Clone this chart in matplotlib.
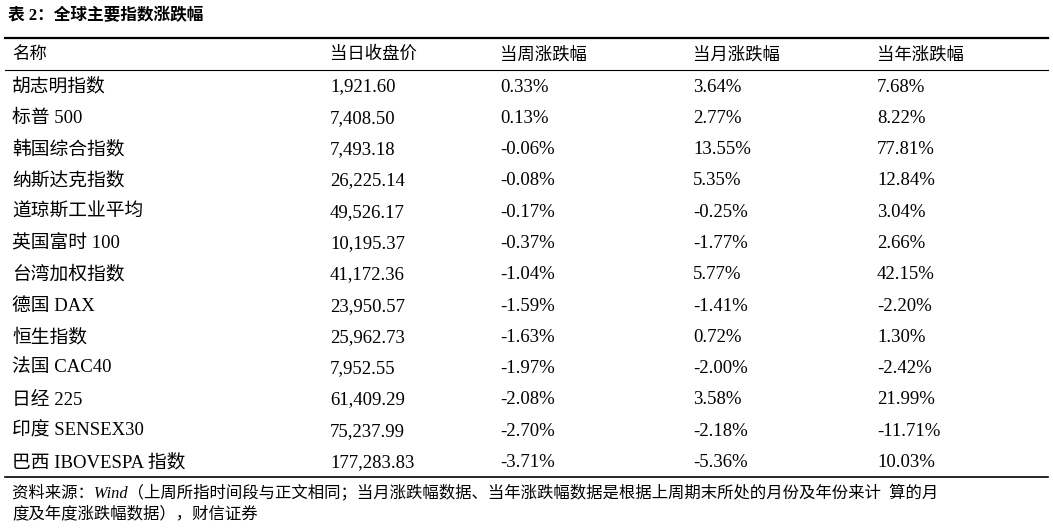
import matplotlib
matplotlib.use("Agg")
import matplotlib.pyplot as plt
from matplotlib.lines import Line2D

title = "表 2：全球主要指数涨跌幅"
headers = ["名称", "当日收盘价", "当周涨跌幅", "当月涨跌幅", "当年涨跌幅"]
names = ["胡志明指数", "标普 500", "韩国综合指数", "纳斯达克指数", "道琼斯工业平均", "英国富时 100",
         "台湾加权指数", "德国 DAX", "恒生指数", "法国 CAC40", "日经 225", "印度 SENSEX30", "巴西 IBOVESPA 指数"]
close = ["1,921.60", "7,408.50", "7,493.18", "26,225.14", "49,526.17", "10,195.37", "41,172.36",
         "23,950.57", "25,962.73", "7,952.55", "61,409.29", "75,237.99", "177,283.83"]
week = ["0.33%", "0.13%", "-0.06%", "-0.08%", "-0.17%", "-0.37%", "-1.04%", "-1.59%", "-1.63%",
        "-1.97%", "-2.08%", "-2.70%", "-3.71%"]
month = ["3.64%", "2.77%", "13.55%", "5.35%", "-0.25%", "-1.77%", "5.77%", "-1.41%", "0.72%",
         "-2.00%", "3.58%", "-2.18%", "-5.36%"]
year = ["7.68%", "8.22%", "77.81%", "12.84%", "3.04%", "2.66%", "42.15%", "-2.20%", "1.30%",
        "-2.42%", "21.99%", "-11.71%", "10.03%"]
note1 = "资料来源：Wind（上周所指时间段与正文相同；当月涨跌幅数据、当年涨跌幅数据是根据上周期末所处的月份及年份来计  算的月"
note2 = "度及年度涨跌幅数据），财信证券"

W, H = 1053, 530
fig = plt.figure(figsize=(W/100, H/100), dpi=100)
fam = ["Liberation Serif", "Noto Sans CJK SC"]

def T(x, y, s, **kw):
    fig.text(x/W, 1 - y/H, s, va="center", ha="left", family=fam, **kw)

def L(y, lw):
    fig.add_artist(Line2D([5/W, 1048/W], [1 - y/H]*2, color="black", lw=lw))

T(8, 16, title, fontsize=12, weight="bold")
L(38, 1.6)
L(70, 0.8)
L(477, 1.2)
cols = [12, 330, 500, 693, 877]
for x, h in zip(cols, headers):
    T(x, 55, h, fontsize=12.5)
for i in range(len(names)):
    y = 87 + i * 31.3
    for x, v in zip(cols, [names[i], close[i], week[i], month[i], year[i]]):
        T(x, y, v, fontsize=13.5)
T(12, 493, note1, fontsize=11.8, style="italic")
T(12, 514, note2, fontsize=11.8, style="italic")
fig.savefig("out.png", dpi=100, facecolor="white")
